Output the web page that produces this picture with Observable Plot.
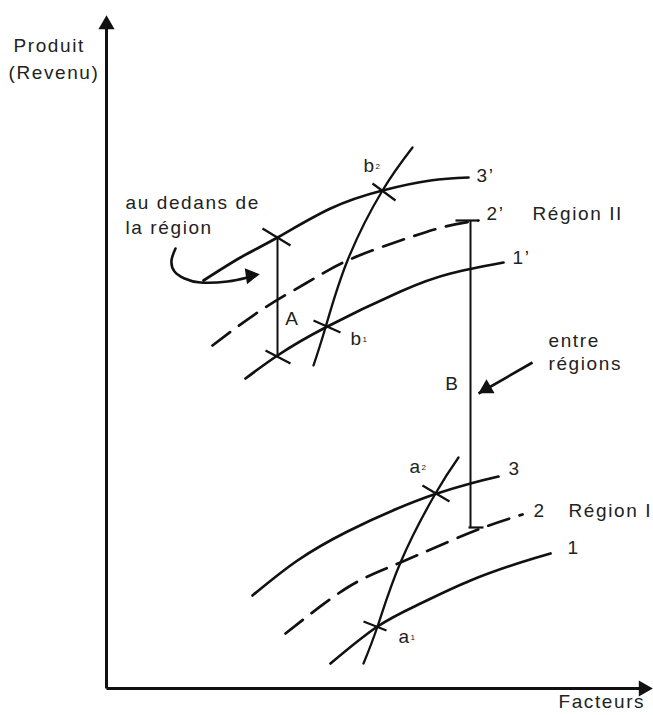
<!DOCTYPE html>
<html><head><meta charset="utf-8">
<script src="https://cdn.jsdelivr.net/npm/d3@7"></script>
<script src="https://cdn.jsdelivr.net/npm/@observablehq/plot@0.6"></script>
<style>
body{margin:0;background:#fff;}
#chart svg text{letter-spacing:1.6px}
</style></head><body><div id="chart"></div>
<script>
// Data units: x = Facteurs, y = Produit (origin at the axes corner)
// Region I curves
const curve1 = [[224,25],[271,62],[314,85],[364,108],[414,126],[444,135]];
const curve2 = [[179,55],[241,101],[294,126],[364,156],[416,174]];
const curve3 = [[146,93],[191,128],[241,157],[291,180],[329,194.5],[364,205],[392,212]];
const aPath  = [[257,25],[271,62],[294,126],[329,195],[352,231]];
// Region II curves
const curve1p = [[139,310],[171,333],[219,361],[294,397],[344,415],[397,426]];
const curve2p = [[106,343],[154,378],[199,405],[241,428],[294,448],[339,462],[372,468]];
const curve3p = [[97,408],[134,431],[171,451],[224,480],[276,498],[324,508],[362,511]];
const bPath   = [[207,323],[219,361],[241,428],[276,498],[306,541]];
// crossing ticks at a1, a2, b1, b2 and ends of A
const crossTicks = [
  [257,67,280,58],[316,203,343,187],[207,368,234,356],[266,505,289,488],
  [156,460,184,443],[159,338,184,325]
];
// gaps A (within region) and B (between regions)
const gapA = [171,333,451];
const gapB = [364,161,468];
const gapBCaps = [[362,161,377,161],[349,468,372,468]];
// annotation arrows
const insideArrow = [[69,440],[65,428],[68,417],[78,410],[94,406],[121,407],[141,411]];
const betweenArrow = [426,326,372,295];
// axes
const axisX = [0,0,540,0];
const axisY = [0,0,0,666];
const heads = [
  {x:537,y:0,rot:90},{x:0,y:664,rot:0},{x:144,y:413,rot:82},{x:380,y:300,rot:240}
];
// labels
const curveLabels = [
  {t:"1",x:461,y:141},{t:"2",x:427,y:178},{t:"3",x:402,y:220},
  {t:"1’",x:406,y:431},{t:"2’",x:380,y:475},{t:"3’",x:370,y:513}
];
const regionLabels = [{t:"Région I",x:462,y:178},{t:"Région II",x:426,y:475}];
const pointLabels = [
  {t:"a",s:"2",x:303,y:222},{t:"a",s:"1",x:292,y:52},
  {t:"b",s:"2",x:257,y:523},{t:"b",s:"1",x:244,y:350}
];
const gapLabels = [{t:"A",x:186,y:370},{t:"B",x:346,y:305}];
const noteLabels = [
  {t:"au dedans de",x:19,y:486},{t:"la région",x:19,y:461},
  {t:"entre",x:442,y:348},{t:"régions",x:442,y:325}
];
const axisLabels = [
  {t:"Produit",x:-93,y:643},{t:"(Revenu)",x:-98,y:616},{t:"Facteurs",x:452,y:-13}
];

const rows = (pts, name) => pts.map(([x,y]) => ({x, y, name}));
const solid = [...rows(curve1,"1"),...rows(curve3,"3"),...rows(curve1p,"1'"),...rows(curve3p,"3'")];
const dashed = [...rows(curve2,"2"),...rows(curve2p,"2'")];
const steep = [...rows(aPath,"a"),...rows(bPath,"b")];
const seg = a => ({x1:a[0],y1:a[1],x2:a[2],y2:a[3]});

const chart = Plot.plot({
  width:653, height:715, margin:0,
  x:{domain:[-106,547], range:[0,653], axis:null},
  y:{domain:[-27,688], range:[715,0], axis:null},
  style:{fontFamily:"'Liberation Sans', Arial, sans-serif", fontSize:"19px", background:"#fff", color:"#222"},
  marks:[
    Plot.link([axisX,axisY].map(seg), {x1:"x1",y1:"y1",x2:"x2",y2:"y2",stroke:"#111",strokeWidth:3}),
    Plot.line(solid, {x:"x",y:"y",z:"name",stroke:"#111",strokeWidth:2.7,curve:"natural"}),
    Plot.line(dashed, {x:"x",y:"y",z:"name",stroke:"#111",strokeWidth:2.7,curve:"natural",strokeDasharray:"22,11"}),
    Plot.line(steep, {x:"x",y:"y",z:"name",stroke:"#111",strokeWidth:2.3,curve:"natural"}),
    Plot.link(crossTicks.map(seg), {x1:"x1",y1:"y1",x2:"x2",y2:"y2",stroke:"#111",strokeWidth:2.2}),
    Plot.link([gapA,gapB].map(g=>({x1:g[0],y1:g[1],x2:g[0],y2:g[2]})), {x1:"x1",y1:"y1",x2:"x2",y2:"y2",stroke:"#111",strokeWidth:2}),
    Plot.link(gapBCaps.map(seg), {x1:"x1",y1:"y1",x2:"x2",y2:"y2",stroke:"#111",strokeWidth:2.2}),
    Plot.line(rows(insideArrow,"in"), {x:"x",y:"y",stroke:"#111",strokeWidth:2.6,curve:"natural"}),
    Plot.link([seg(betweenArrow)], {x1:"x1",y1:"y1",x2:"x2",y2:"y2",stroke:"#111",strokeWidth:2.6}),
    Plot.dot(heads, {x:"x",y:"y",rotate:"rot",symbol:"triangle",r:6,fill:"#111",stroke:"none"}),
    Plot.text(curveLabels, {x:"x",y:"y",text:"t",textAnchor:"start",fill:"#222"}),
    Plot.text(regionLabels, {x:"x",y:"y",text:"t",textAnchor:"start",fill:"#222"}),
    Plot.text(pointLabels, {x:"x",y:"y",text:"t",textAnchor:"start",fill:"#222"}),
    Plot.text(pointLabels, {x:"x",y:"y",text:"s",textAnchor:"start",fill:"#222",fontSize:8,dx:12,dy:1}),
    Plot.text(gapLabels, {x:"x",y:"y",text:"t",textAnchor:"middle",fill:"#222"}),
    Plot.text(noteLabels, {x:"x",y:"y",text:"t",textAnchor:"start",fill:"#222"}),
    Plot.text(axisLabels, {x:"x",y:"y",text:"t",textAnchor:"start",fill:"#222"})
  ]
});
document.getElementById("chart").appendChild(chart);
</script></body></html>
